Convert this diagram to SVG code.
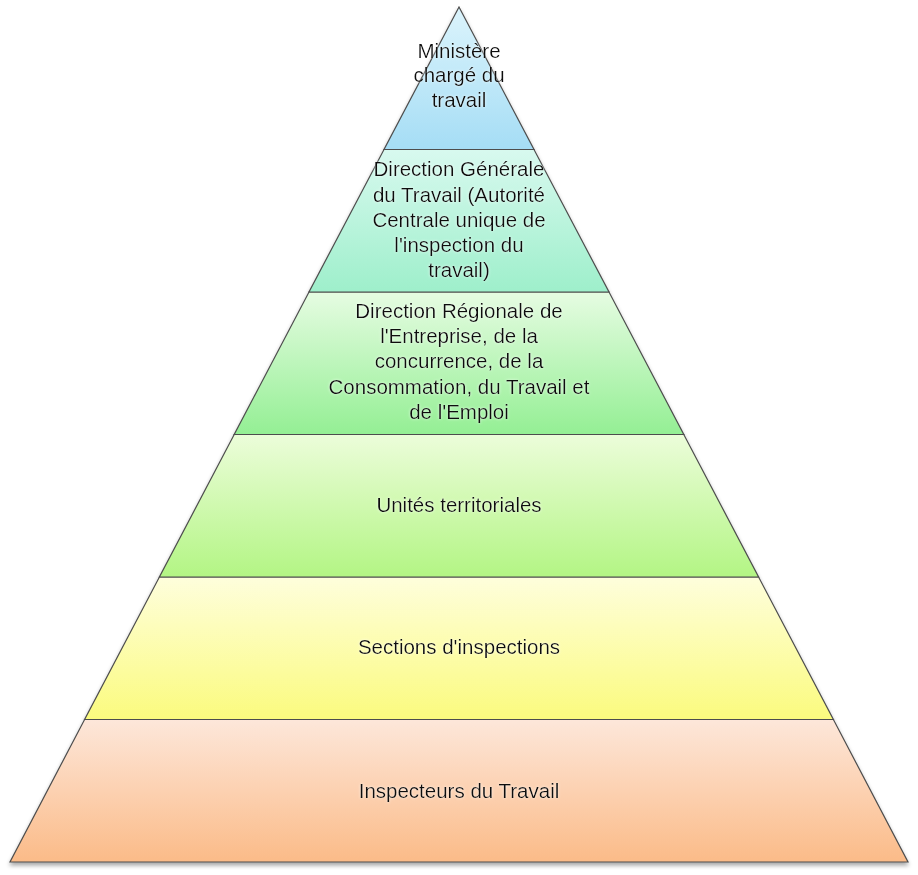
<svg xmlns="http://www.w3.org/2000/svg" width="918" height="875" viewBox="0 0 918 875">
<style>
.lbl{font-family:"Liberation Sans","Arial",sans-serif;font-size:20.5px;fill:#111;text-anchor:middle;filter:url(#glow)}
.lay{stroke:#4d4d4d;stroke-width:1.2;stroke-linejoin:miter}
</style>
<defs>
<filter id="glow" x="-10%" y="-30%" width="120%" height="160%">
<feGaussianBlur in="SourceAlpha" stdDeviation="1.5" result="b"/>
<feFlood flood-color="#ffffff" flood-opacity="0.7"/>
<feComposite in2="b" operator="in" result="s"/>
<feMerge><feMergeNode in="s"/><feMergeNode in="SourceGraphic"/></feMerge>
</filter>
<filter id="shadow" x="-5%" y="-5%" width="110%" height="110%">
<feGaussianBlur in="SourceAlpha" stdDeviation="2"/>
<feOffset dx="0" dy="3" result="o"/>
<feComponentTransfer><feFuncA type="linear" slope="0.35"/></feComponentTransfer>
<feMerge><feMergeNode/><feMergeNode in="SourceGraphic"/></feMerge>
</filter>
<linearGradient id="g1" x1="0" y1="0" x2="0" y2="1"><stop offset="0" stop-color="#dcf4fc"/><stop offset="1" stop-color="#a5ddf5"/></linearGradient>
<linearGradient id="g2" x1="0" y1="0" x2="0" y2="1"><stop offset="0" stop-color="#d8f9ef"/><stop offset="1" stop-color="#9eefcb"/></linearGradient>
<linearGradient id="g3" x1="0" y1="0" x2="0" y2="1"><stop offset="0" stop-color="#e6fce2"/><stop offset="1" stop-color="#94ef94"/></linearGradient>
<linearGradient id="g4" x1="0" y1="0" x2="0" y2="1"><stop offset="0" stop-color="#ecfdda"/><stop offset="1" stop-color="#b3f584"/></linearGradient>
<linearGradient id="g5" x1="0" y1="0" x2="0" y2="1"><stop offset="0" stop-color="#fefedc"/><stop offset="1" stop-color="#fbfb7e"/></linearGradient>
<linearGradient id="g6" x1="0" y1="0" x2="0" y2="1"><stop offset="0" stop-color="#fde7da"/><stop offset="1" stop-color="#fbbb88"/></linearGradient>
</defs>
<rect width="918" height="875" fill="#ffffff"/>
<g id="pyramid" filter="url(#shadow)">
<g id="layer6"><polygon class="lay" fill="url(#g6)" points="84.6,719.5 833.4,719.5 908,862 10,862"/></g>
<g id="layer5"><polygon class="lay" fill="url(#g5)" points="159.4,577 758.6,577 833.4,719.5 84.6,719.5"/></g>
<g id="layer4"><polygon class="lay" fill="url(#g4)" points="234.2,434.5 683.8,434.5 758.6,577 159.4,577"/></g>
<g id="layer3"><polygon class="lay" fill="url(#g3)" points="309,292 609,292 683.8,434.5 234.2,434.5"/></g>
<g id="layer2"><polygon class="lay" fill="url(#g2)" points="384,149.5 534,149.5 609,292 309,292"/></g>
<g id="layer1"><polygon class="lay" fill="url(#g1)" points="459,7 534,149.5 384,149.5"/></g>
</g>
<g id="labels">
<text class="lbl" x="459"><tspan x="459" y="58">Ministère</tspan><tspan x="459" y="82">chargé du</tspan><tspan x="459" y="107">travail</tspan></text>
<text class="lbl" x="459"><tspan x="459" y="176">Direction Générale</tspan><tspan x="459" y="202">du Travail (Autorité</tspan><tspan x="459" y="227">Centrale unique de</tspan><tspan x="459" y="252">l'inspection du</tspan><tspan x="459" y="277">travail)</tspan></text>
<text class="lbl" x="459"><tspan x="459" y="318">Direction Régionale de</tspan><tspan x="459" y="343">l'Entreprise, de la</tspan><tspan x="459" y="368">concurrence, de la</tspan><tspan x="459" y="394">Consommation, du Travail et</tspan><tspan x="459" y="419">de l'Emploi</tspan></text>
<text class="lbl" x="459" y="512">Unités territoriales</text>
<text class="lbl" x="459" y="654">Sections d'inspections</text>
<text class="lbl" x="459" y="798">Inspecteurs du Travail</text>
</g>
</svg>
